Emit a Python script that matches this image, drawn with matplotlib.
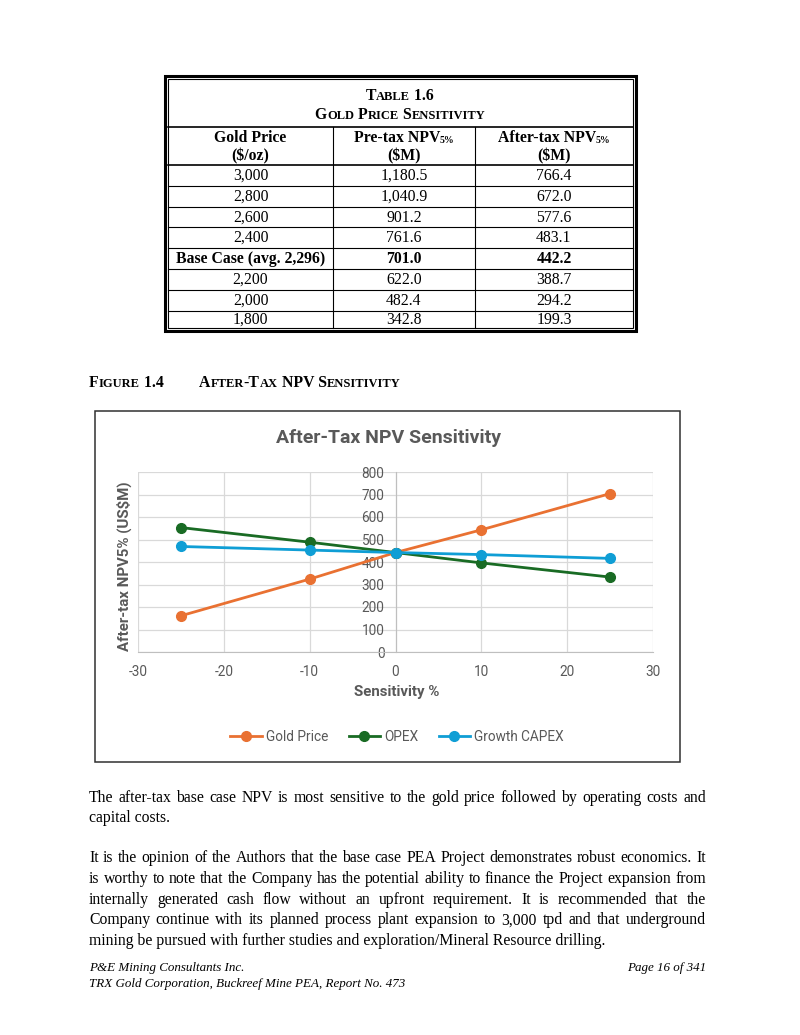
import matplotlib
matplotlib.use('Agg')
import matplotlib.pyplot as plt
from matplotlib.patches import Rectangle

plt.rcParams['axes.unicode_minus'] = False

# chart data
sensitivity = [-25, -10, 0, 10, 25]
gold_price = [161, 324, 442, 543, 704]
opex = [553, 488, 442, 396, 333]
growth_capex = [469, 453, 442, 433, 416]
series_names = ['Gold Price', 'OPEX', 'Growth CAPEX']
series_colors = ['#E97132', '#196B24', '#0F9ED5']

# table 1.6
col_heads = [('Gold Price', '', '($/oz)'), ('Pre-tax NPV', '5%', '($M)'), ('After-tax NPV', '5%', '($M)')]
prices = ['3,000', '2,800', '2,600', '2,400', 'Base Case (avg. 2,296)', '2,200', '2,000', '1,800']
pretax = ['1,180.5', '1,040.9', '901.2', '761.6', '701.0', '622.0', '482.4', '342.8']
aftertax = ['766.4', '672.0', '577.6', '483.1', '442.2', '388.7', '294.2', '199.3']
base_row = 4

para1 = ['The after-tax base case NPV is most sensitive to the gold price followed by operating costs and',
         'capital costs.']
para2 = ['It is the opinion of the Authors that the base case PEA Project demonstrates robust economics. It',
         'is worthy to note that the Company has the potential ability to finance the Project expansion from',
         'internally generated cash flow without an upfront requirement. It is recommended that the',
         'Company continue with its planned process plant expansion to 3,000 tpd and that underground',
         'mining be pursued with further studies and exploration/Mineral Resource drilling.']

SERIF = 'Liberation Serif'
SANS = 'Roboto'
GRAY = '#595959'
FS = 11.3

fig = plt.figure(figsize=(8, 10.35), dpi=100)
page = fig.add_axes([0, 0, 1, 1])
page.set_xlim(0, 800)
page.set_ylim(1035, 0)
page.axis('off')
renderer = fig.canvas.get_renderer()


def width(s, **kw):
    t = page.text(0, 0, '|' + s + '|', **kw)
    w = t.get_window_extent(renderer).width
    t.set_text('||')
    w -= t.get_window_extent(renderer).width
    t.remove()
    return w


def runs_text(x, y, runs, ha='left', family=SERIF, color='black'):
    # runs: (text, size, weight, style, dy)
    ws = [width(r[0], fontsize=r[1], fontweight=r[2], style=r[3], family=family) for r in runs]
    tot = sum(ws)
    x0 = x - tot / 2 if ha == 'center' else (x - tot if ha == 'right' else x)
    for r, w in zip(runs, ws):
        page.text(x0, y + r[4], r[0], fontsize=r[1], fontweight=r[2], style=r[3],
                  family=family, color=color, va='baseline', ha='left')
        x0 += w


def small_caps(s, big, weight='bold'):
    runs = []
    for ch in s:
        size = big * 0.8 if ch.islower() else big
        if runs and runs[-1][1] == size:
            runs[-1] = (runs[-1][0] + ch.upper(), size, weight, 'normal', 0)
        else:
            runs.append((ch.upper(), size, weight, 'normal', 0))
    return runs


def justified(y, line, x0=89, x1=706, justify=True):
    words = line.split(' ')
    kw = dict(fontsize=FS, family=SERIF)
    if not justify:
        page.text(x0, y, line, va='baseline', **kw)
        return
    ws = [width(w, **kw) for w in words]
    gap = (x1 - x0 - sum(ws)) / (len(words) - 1)
    x = x0
    for w, wd in zip(words, ws):
        page.text(x, y, w, va='baseline', **kw)
        x += wd + gap


# ---- table ----
L, R, T, B = 165, 636, 76, 331
page.add_patch(Rectangle((L, T), R - L, B - T, fill=False, lw=2.2, ec='black'))
page.add_patch(Rectangle((L + 3, T + 3), R - L - 6, B - T - 6, fill=False, lw=0.8, ec='black'))
row_lines = [127, 165, 186, 207, 227, 248, 269, 290, 311]
for i, yl in enumerate(row_lines):
    page.plot([L + 3, R - 3], [yl, yl], color='black', lw=1.2 if i < 2 else 0.8)
col_x = [L + 3, 333, 475, R - 3]
for xc in col_x[1:3]:
    page.plot([xc, xc], [127, B - 3], color='black', lw=0.8)
centers = [(col_x[i] + col_x[i + 1]) / 2 for i in range(3)]

runs_text(400, 100, small_caps('Table 1.6', FS), ha='center')
runs_text(400, 119, small_caps('Gold Price Sensitivity', FS), ha='center')
for cx, (h1, sub, h2) in zip(centers, col_heads):
    runs = [(h1, FS, 'bold', 'normal', 0)]
    if sub:
        runs.append((sub, FS * 0.62, 'bold', 'normal', 1))
    runs_text(cx, 142, runs, ha='center')
    runs_text(cx, 160, [(h2, FS, 'bold', 'normal', 0)], ha='center')
row_edges = row_lines[1:] + [B - 3]
for i, vals in enumerate(zip(prices, pretax, aftertax)):
    yb = (row_edges[i] + row_edges[i + 1]) / 2 + 4.5
    for cx, v in zip(centers, vals):
        page.text(cx, yb, v, ha='center', va='baseline', family=SERIF, fontsize=FS,
                  fontweight='bold' if i == base_row else 'normal')

# ---- figure caption ----
runs_text(89, 387, small_caps('Figure 1.4', FS))
runs_text(199, 387, small_caps('After-Tax NPV Sensitivity', FS))

# ---- chart ----
page.add_patch(Rectangle((95, 411), 585, 351, fill=False, lw=1.1, ec='#303030'))
ax = fig.add_axes([138 / 800, 1 - 652 / 1035, (653 - 138) / 800, (652 - 472) / 1035])
ax.set_facecolor('none')
for vals, name, col in zip([gold_price, opex, growth_capex], series_names, series_colors):
    ax.plot(sensitivity, vals, color=col, lw=2, marker='o', ms=7, label=name, zorder=3)
ax.set_xlim(-30, 30)
ax.set_ylim(0, 800)
ax.set_xticks(range(-30, 31, 10))
ax.set_yticks(range(0, 801, 100))
ax.grid(True, color='#D9D9D9', lw=0.9)
ax.set_axisbelow(True)
for s in ['top', 'right']:
    ax.spines[s].set_visible(False)
ax.spines['left'].set_position(('data', 0))
ax.spines['left'].set_color('#BFBFBF')
ax.spines['bottom'].set_color('#BFBFBF')
ax.tick_params(length=0, labelsize=9.8, labelcolor=GRAY)
ax.tick_params(axis='x', pad=9)
ax.tick_params(axis='y', pad=8)
for lab in ax.get_xticklabels() + ax.get_yticklabels():
    lab.set_family(SANS)

page.text(388, 438, 'After-Tax NPV Sensitivity', ha='center', va='center', family=SANS,
          fontsize=14, fontweight='bold', color=GRAY)
page.text(124, 566, 'After-tax NPV5% (US$M)', ha='center', va='center', rotation=90,
          family=SANS, fontsize=10.8, fontweight='bold', color=GRAY)
page.text(397, 692, 'Sensitivity %', ha='center', va='center', family=SANS,
          fontsize=10.8, fontweight='bold', color=GRAY)
ax.legend(loc='center', bbox_to_anchor=(397 / 800, 1 - 737 / 1035), bbox_transform=fig.transFigure,
          ncol=3, frameon=False, prop={'family': SANS, 'size': 9.8}, labelcolor=GRAY,
          handlelength=2.3, handletextpad=0.3, columnspacing=1.5)

# ---- body text ----
for i, line in enumerate(para1):
    justified(802 + i * 20.5, line, justify=(i < len(para1) - 1))
for i, line in enumerate(para2):
    justified(862 + i * 20.8, line, justify=(i < len(para2) - 1))

# ---- footer ----
page.text(89, 971, 'P&E Mining Consultants Inc.', family=SERIF, style='italic', fontsize=9.4, va='baseline')
page.text(89, 987, 'TRX Gold Corporation, Buckreef Mine PEA, Report No. 473', family=SERIF,
          style='italic', fontsize=9.4, va='baseline')
page.text(706, 971, 'Page 16 of 341', family=SERIF, style='italic', fontsize=9.4, va='baseline', ha='right')

fig.savefig('out.png', dpi=100)
